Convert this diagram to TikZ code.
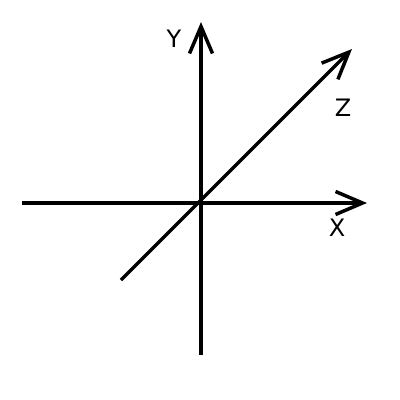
\documentclass[tikz,border=0pt]{standalone}
\usepackage{fontspec}
\setmainfont{DejaVu Sans}
\usetikzlibrary{arrows.meta}
\begin{document}
\begin{tikzpicture}[x=1pt,y=-1pt,
  axis/.style={line width=3.5pt,-{Straight Barb[length=27pt,width=23pt,line width=3.5pt]}},
  lbl/.style={font=\fontsize{24}{26}\selectfont,inner sep=0pt}]
\useasboundingbox (0,0) rectangle (400,400);
\coordinate (xs) at (22,203);
\coordinate (xe) at (367,203);
\coordinate (ys) at (201,355);
\coordinate (ye) at (201,22);
\coordinate (zs) at (121,280);
\coordinate (ze) at (352,49);
\draw[axis] (xs) -- (xe);
\draw[axis] (ys) -- (ye);
\draw[axis] (zs) -- (ze);
\node[lbl] (ly) at (174,39) {Y};
\node[lbl] (lz) at (343,108) {Z};
\node[lbl] (lx) at (337,228) {X};
\end{tikzpicture}
\end{document}
